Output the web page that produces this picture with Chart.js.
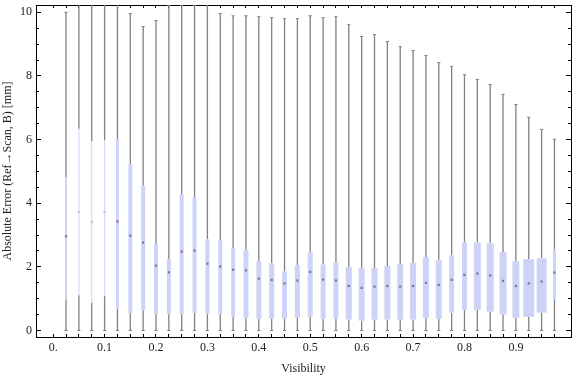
<!DOCTYPE html>
<html><head><meta charset="utf-8">
<script src="https://cdn.jsdelivr.net/npm/chart.js@4.4.0/dist/chart.umd.min.js"></script>
<style>html,body{margin:0;padding:0;background:#fff;}</style>
</head><body>
<canvas id="c" width="576" height="377"></canvas>
<script>
// ---- data ----
const visibility = [0.025,0.05,0.075,0.1,0.125,0.15,0.175,0.2,0.225,0.25,0.275,0.3,0.325,0.35,0.375,0.4,0.425,0.45,0.475,0.5,0.525,0.55,0.575,0.6,0.625,0.65,0.675,0.7,0.725,0.75,0.775,0.8,0.825,0.85,0.875,0.9,0.925,0.95,0.975];
const maxVals = [10.0,10.5,10.5,10.5,10.5,9.96,9.55,9.74,10.22,10.22,10.22,10.28,9.96,9.89,9.89,9.86,9.83,9.80,9.80,9.89,9.83,9.86,9.61,9.24,9.30,9.08,8.92,8.80,8.64,8.42,8.30,8.04,7.89,7.73,7.42,7.10,6.70,6.32,6.01];
const q3Vals = [4.81,6.34,5.94,5.98,6.02,5.22,4.55,2.71,2.24,4.28,4.18,2.87,2.84,2.58,2.52,2.18,2.11,1.86,2.05,2.46,2.08,2.15,1.99,1.96,1.96,2.03,2.09,2.12,2.31,2.22,2.37,2.77,2.77,2.74,2.46,2.18,2.24,2.27,2.54];
const medianVals = [2.96,3.72,3.41,3.72,3.43,2.98,2.76,2.04,1.83,2.48,2.51,2.10,2.01,1.91,1.89,1.63,1.59,1.48,1.57,1.84,1.60,1.57,1.40,1.34,1.38,1.40,1.38,1.40,1.50,1.43,1.59,1.75,1.79,1.73,1.56,1.40,1.48,1.54,1.82];
const q1Vals = [0.98,1.11,0.87,1.08,0.67,0.54,0.64,0.53,0.53,0.53,0.56,0.53,0.53,0.43,0.40,0.37,0.37,0.37,0.40,0.43,0.37,0.37,0.34,0.31,0.34,0.34,0.34,0.34,0.40,0.37,0.56,0.65,0.65,0.59,0.50,0.40,0.43,0.56,0.97];
const minVals = [0,0,0,0,0,0,0,0,0,0,0,0,0,0,0,0,0,0,0,0,0,0,0,0,0,0,0,0,0,0,0,0,0,0,0,0,0,0,0];
const xLabelValues = [0,0.1,0.2,0.3,0.4,0.5,0.6,0.7,0.8,0.9];
const xTickLabels = ['0.','0.1','0.2','0.3','0.4','0.5','0.6','0.7','0.8','0.9'];
const yMajorTicks = [0,2,4,6,8,10];
const yTickLabels = ['0','2','4','6','8','10'];
const yMinorTicks = [0,0.5,1,1.5,2,2.5,3,3.5,4,4.5,5,5.5,6,6.5,7,7.5,8,8.5,9,9.5,10];
const xTickPositions = [0].concat(visibility);

// ---- styles ----
const boxWidthsPx = [2,1.2,1.2,1.2,3,4,4,4,4,4,4,4,4,4,5,5,5,5,5,5,5,5,6,6,6,6,6,6,6,6,5,5,7,7,7,7,11,10,3];
const GRAY = '#808080';
const BOX = '#ccd3f6';
const BOX_THIN = '#d3d9f7';
const FONT = "'Liberation Serif','Times New Roman',serif";

Chart.defaults.font.family = FONT;
Chart.defaults.font.size = 12;
Chart.defaults.color = '#222';

const datasets = [];
datasets.push({type:'bar', order:3, grouped:false, barThickness:1.3, inflateAmount:0,
  backgroundColor:GRAY,
  data: visibility.map((v,i)=>({x:v, y:[minVals[i], q1Vals[i]]}))});
datasets.push({type:'bar', order:3, grouped:false, barThickness:1.3, inflateAmount:0,
  backgroundColor:GRAY,
  data: visibility.map((v,i)=>({x:v, y:[q3Vals[i], maxVals[i]]}))});
const uniqueW = [...new Set(boxWidthsPx)];
uniqueW.forEach(w=>{
  const d = [];
  visibility.forEach((v,i)=>{ if (boxWidthsPx[i]===w) d.push({x:v, y:[q1Vals[i], q3Vals[i]]}); });
  datasets.push({type:'bar', order:2, grouped:false, barThickness:w, inflateAmount:0,
    backgroundColor: w<1.5 ? BOX_THIN : BOX, data:d});
});
datasets.push({type:'scatter', order:1, pointStyle:'line', pointRadius:1.6, borderWidth:1, borderColor:GRAY,
  data: visibility.map((v,i)=>({x:v, y:maxVals[i]})).concat(visibility.map((v,i)=>({x:v, y:minVals[i]})))});
datasets.push({type:'scatter', order:0, pointStyle:'rect', pointRadius:1.6, borderWidth:0,
  backgroundColor: boxWidthsPx.map(w=> w<1.5 ? '#c4c6d4' : '#7c7c88'),
  data: visibility.map((v,i)=>({x:v, y:medianVals[i]}))});

function zeroPad(s){ s.paddingTop=0; s.paddingBottom=0; s.paddingLeft=0; s.paddingRight=0; }
const XMIN=-0.0334, XMAX=1.0072, YMIN=-0.204, YMAX=10.229;
const frameGrid = (tl)=>({drawOnChartArea:false, drawTicks:true, tickLength:tl, color:'#000', tickColor:'#000', lineWidth:1, offset:false});

new Chart(document.getElementById('c'), {
  type:'bar',
  data:{datasets},
  options:{
    responsive:false, animation:false, events:[],
    layout:{padding:{left:0,right:1,top:0,bottom:0}},
    plugins:{legend:{display:false}, tooltip:{enabled:false}},
    scales:{
      x:{type:'linear', position:'bottom', min:XMIN, max:XMAX, bounds:'data', offset:false,
        afterBuildTicks:s=>{s.ticks = xTickPositions.map(v=>({value:v}));},
        afterFit:s=>{s.height=40; zeroPad(s);},
        grid:frameGrid(-3), border:{display:true,color:'#000',width:1},
        ticks:{autoSkip:false, maxRotation:0, minRotation:0, padding:7,
          callback:(val)=>{const k=xLabelValues.findIndex(t=>Math.abs(t-val)<1e-6); return k>=0?xTickLabels[k]:'';}},
        title:{display:true, text:'Visibility', padding:{top:0,bottom:1}}},
      x2:{type:'linear', position:'top', min:XMIN, max:XMAX, bounds:'data', offset:false,
        afterBuildTicks:s=>{s.ticks = xTickPositions.map(v=>({value:v}));},
        afterFit:s=>{s.height=4; zeroPad(s);},
        grid:frameGrid(-3), border:{display:true,color:'#000',width:1},
        ticks:{display:false, autoSkip:false}},
      y:{type:'linear', position:'left', weight:1, min:YMIN, max:YMAX, bounds:'data', beginAtZero:false,
        afterBuildTicks:s=>{s.ticks = yMajorTicks.map(v=>({value:v}));},
        afterFit:s=>{s.width=36; zeroPad(s);},
        grid:frameGrid(-5), border:{display:true,color:'#000',width:1},
        ticks:{autoSkip:false, padding:9,
          callback:(val)=>{const k=yMajorTicks.findIndex(t=>Math.abs(t-val)<1e-6); return k>=0?yTickLabels[k]:'';}},
        title:{display:true, text:'Absolute Error (Ref\u2192Scan, B) [mm]', padding:{top:1,bottom:0}}},
      yMinor:{type:'linear', position:'left', weight:0, min:YMIN, max:YMAX, bounds:'data',
        afterBuildTicks:s=>{s.ticks = yMinorTicks.map(v=>({value:v}));},
        afterFit:s=>{s.width=0; zeroPad(s);},
        grid:frameGrid(-3), border:{display:false},
        ticks:{display:false, autoSkip:false}},
      yR:{type:'linear', position:'right', weight:1, min:YMIN, max:YMAX, bounds:'data',
        afterBuildTicks:s=>{s.ticks = yMajorTicks.map(v=>({value:v}));},
        afterFit:s=>{s.width=0; zeroPad(s);},
        grid:frameGrid(-5), border:{display:true,color:'#000',width:1},
        ticks:{display:false, autoSkip:false}},
      yRMinor:{type:'linear', position:'right', weight:0, min:YMIN, max:YMAX, bounds:'data',
        afterBuildTicks:s=>{s.ticks = yMinorTicks.map(v=>({value:v}));},
        afterFit:s=>{s.width=0; zeroPad(s);},
        grid:frameGrid(-3), border:{display:false},
        ticks:{display:false, autoSkip:false}}
    }
  }
});
</script>
</body></html>
